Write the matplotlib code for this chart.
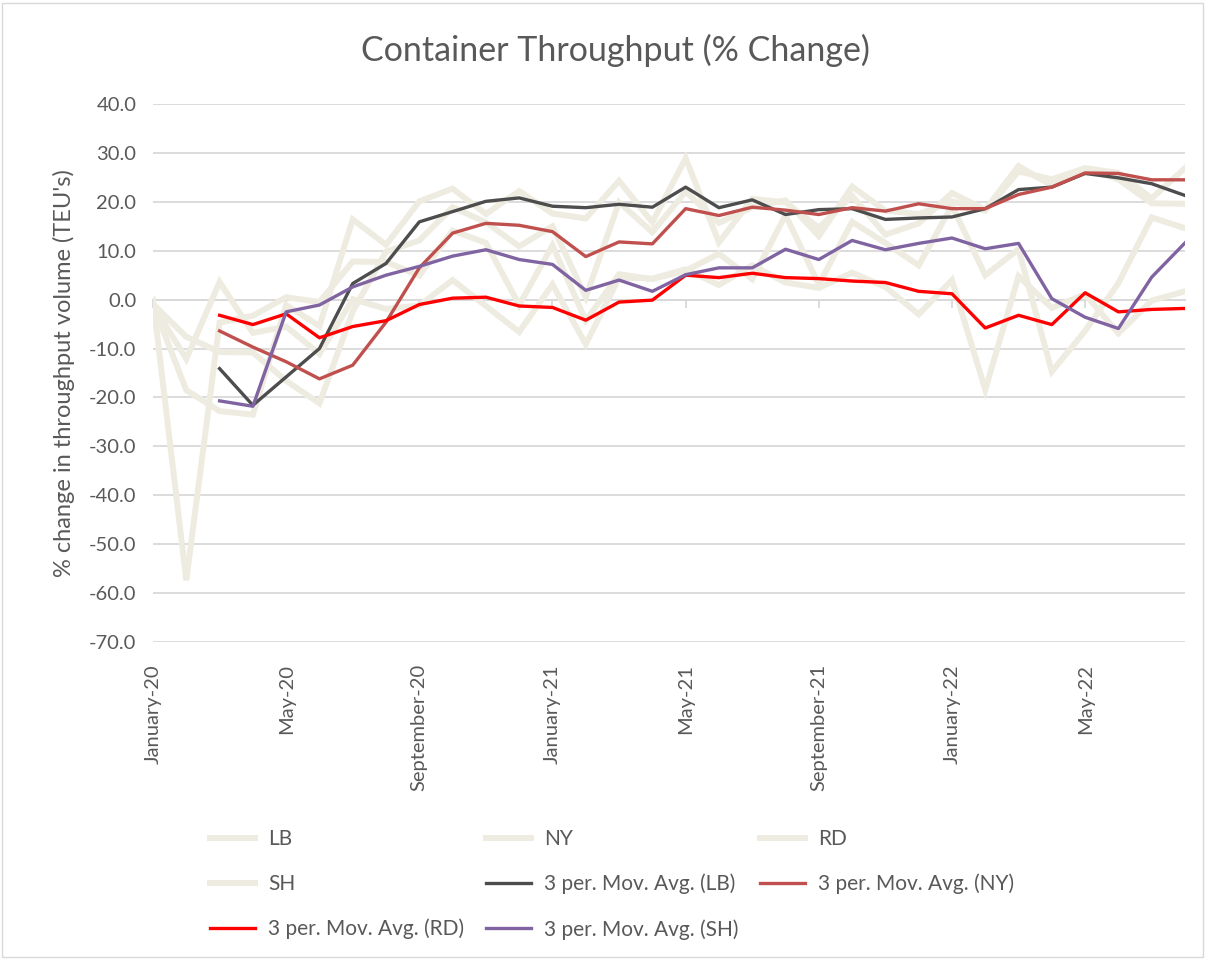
import matplotlib
matplotlib.use("Agg")
import matplotlib.pyplot as plt
import numpy as np
from matplotlib.patches import Rectangle

# ---------------- data ----------------
months = ["January-20", "February-20", "March-20", "April-20", "May-20", "June-20",
          "July-20", "August-20", "September-20", "October-20", "November-20", "December-20",
          "January-21", "February-21", "March-21", "April-21", "May-21", "June-21",
          "July-21", "August-21", "September-21", "October-21", "November-21", "December-21",
          "January-22", "February-22", "March-22", "April-22", "May-22", "June-22",
          "July-22", "August-22"]

lb = [-1.0, -18.5, -22.8, -23.5, -1.1, -5.4, 16.4, 11.2, 20.1, 22.7, 17.5, 22.2,
      17.6, 16.6, 24.3, 15.8, 28.9, 11.7, 20.6, 19.9, 14.7, 21.2, 13.3, 15.6,
      21.8, 18.4, 27.3, 23.3, 26.8, 24.6, 19.7, 19.6]
ny = [-0.9, -7.6, -10.7, -10.8, -16.6, -21.2, -2.4, 9.8, 12.1, 18.9, 15.8, 10.9,
      15.0, 0.5, 19.9, 13.8, 22.1, 15.7, 18.9, 20.3, 13.0, 23.1, 18.2, 17.5,
      20.1, 18.2, 26.2, 24.6, 26.9, 25.9, 20.7, 26.9]
rd = [-1.1, -12.1, 3.6, -6.8, -5.5, -11.1, 0.1, -1.9, -1.2, 4.0, -1.3, -6.6,
      3.1, -9.1, 4.5, 4.3, 6.2, 3.0, 7.0, 3.5, 2.4, 5.5, 2.6, -3.0,
      4.0, -18.4, 4.8, -1.7, 1.1, -6.9, -0.2, 1.7]
sh = [0.0, -57.4, -4.7, -3.3, 0.5, -0.5, 7.8, 7.7, 4.9, 14.1, 11.6, -1.1,
      11.1, -4.3, 5.2, 4.2, 5.9, 9.4, 4.2, 17.3, 3.1, 15.9, 11.6, 7.0,
      19.2, 5.0, 10.3, -14.7, -6.4, 3.4, 16.8, 14.6]

nan = np.nan
ma_lb = [nan, nan, -14.1, -21.6, -15.8, -10.0, 3.3, 7.4, 15.9, 18.0, 20.1, 20.8,
         19.1, 18.8, 19.5, 18.9, 23.0, 18.8, 20.4, 17.4, 18.4, 18.6, 16.4, 16.7,
         16.9, 18.6, 22.5, 23.0, 25.8, 24.9, 23.7, 21.3]
ma_ny = [nan, nan, -6.4, -9.7, -12.7, -16.2, -13.4, -4.6, 6.5, 13.6, 15.6, 15.2,
         13.9, 8.8, 11.8, 11.4, 18.6, 17.2, 18.9, 18.3, 17.4, 18.8, 18.1, 19.6,
         18.6, 18.6, 21.5, 23.0, 25.9, 25.8, 24.5, 24.5]
ma_rd = [nan, nan, -3.2, -5.1, -2.9, -7.8, -5.5, -4.3, -1.0, 0.3, 0.5, -1.3,
         -1.6, -4.2, -0.5, -0.1, 5.0, 4.5, 5.4, 4.5, 4.3, 3.8, 3.5, 1.7,
         1.2, -5.8, -3.2, -5.1, 1.4, -2.5, -2.0, -1.8]
ma_sh = [nan, nan, -20.7, -21.8, -2.5, -1.1, 2.6, 5.0, 6.8, 8.9, 10.2, 8.2,
         7.2, 1.9, 4.0, 1.7, 5.1, 6.5, 6.5, 10.3, 8.2, 12.1, 10.2, 11.5,
         12.6, 10.4, 11.5, 0.2, -3.6, -5.9, 4.6, 11.6]

# ---------------- style ----------------
FONT = ["Lato", "DejaVu Sans"]
plt.rcParams['font.family'] = FONT
TXT = "#595959"
GRID = "#D9D9D9"
BEIGE = "#EEECE1"

W, H = 1206, 959
fig = plt.figure(figsize=(W / 100, H / 100), dpi=100)
ax = fig.add_axes([153 / W, 1 - 642 / H, (1185 - 153) / W, (642 - 104) / H])

x = np.arange(len(months))
h_lb, = ax.plot(x, lb, color=BEIGE, lw=4.3, solid_joinstyle='miter', label="LB")
h_ny, = ax.plot(x, ny, color=BEIGE, lw=4.3, solid_joinstyle='miter', label="NY")
h_rd, = ax.plot(x, rd, color=BEIGE, lw=4.3, solid_joinstyle='miter', label="RD")
h_sh, = ax.plot(x, sh, color=BEIGE, lw=4.3, solid_joinstyle='miter', label="SH")
h_mlb, = ax.plot(x, ma_lb, color="#4D4D4D", lw=2.4, label="3 per. Mov. Avg. (LB)")
h_mny, = ax.plot(x, ma_ny, color="#C0504D", lw=2.4, label="3 per. Mov. Avg. (NY)")
h_mrd, = ax.plot(x, ma_rd, color="#FF0000", lw=2.4, label="3 per. Mov. Avg. (RD)")
h_msh, = ax.plot(x, ma_sh, color="#8064A2", lw=2.4, label="3 per. Mov. Avg. (SH)")

ax.set_xlim(0, len(months) - 1)
ax.set_ylim(-70, 40)
yt = np.arange(-70, 41, 10)
ax.set_yticks(yt)
ax.set_yticklabels([f"{v:.1f}" for v in yt])
ax.grid(axis='y', color=GRID, lw=1.3)
ax.set_axisbelow(True)
for s in ['left', 'right', 'top']:
    ax.spines[s].set_visible(False)
ax.spines['bottom'].set_position(('data', 0))
ax.spines['bottom'].set_color(GRID)
ax.spines['bottom'].set_linewidth(1.3)
ax.spines['bottom'].set_zorder(0.5)
ax.tick_params(axis='y', length=0, pad=12, labelsize=14.5, labelcolor=TXT)
tick_pos = list(range(0, len(months), 4))
ax.set_xticks(tick_pos)
ax.tick_params(axis='x', length=6, width=1.3, color=GRID, direction='out',
               labelbottom=False)

sec = ax.secondary_xaxis(location=0)
sec.set_xticks(tick_pos, labels=[months[i] for i in tick_pos], rotation=90)
sec.tick_params(length=0, pad=16, labelsize=14.5, labelcolor=TXT)
sec.spines['bottom'].set_visible(False)

ax.set_ylabel("% change in throughput volume (TEU's)", fontsize=17, color=TXT, labelpad=10)

fig.text(615 / W, 1 - 50 / H, "Container Throughput (% Change)", fontsize=24.5,
         color=TXT, ha='center', va='center')

handles = [h_lb, h_sh, h_mrd, h_ny, h_mlb, h_msh, h_rd, h_mny]
fig.legend(handles=handles, labels=[h.get_label() for h in handles], ncol=3,
           loc='upper left', bbox_to_anchor=(210 / W, 1 - 829 / H), frameon=False,
           fontsize=15, labelcolor=TXT, handlelength=2.16, handletextpad=0.62,
           columnspacing=1.05, labelspacing=1.19, borderaxespad=0, borderpad=0)

fig.patches.append(Rectangle((2 / W, 2 / H), (W - 5) / W, (H - 5) / H,
                             transform=fig.transFigure, fill=False, ec=GRID, lw=1))

fig.savefig("out.png", dpi=100)
